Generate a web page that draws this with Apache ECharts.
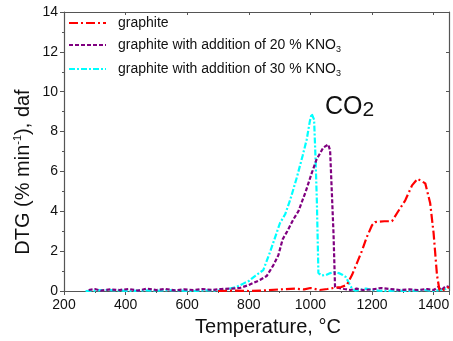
<!DOCTYPE html>
<html>
<head>
<meta charset="utf-8">
<script src="https://cdn.jsdelivr.net/npm/echarts@6/dist/echarts.min.js"></script>
<style>
  html, body { margin: 0; padding: 0; background: #fff; }
  #chart { width: 453px; height: 341px; }
</style>
</head>
<body>
<div id="chart"></div>
<script>
    // graphite
    var graphiteTemp = [700, 750, 800, 850, 900, 950, 980, 1000, 1030, 1055, 1075, 1100, 1118, 1135, 1151, 1167, 1183, 1200, 1210, 1240, 1265, 1281, 1308, 1330, 1348, 1373, 1389, 1400, 1411, 1419, 1430, 1440, 1450];
    var graphiteDtg  = [0, 0.02, 0, 0.03, 0.08, 0.12, 0.08, 0.15, 0.05, 0.1, 0.15, 0.2, 0.3, 0.8, 1.4, 2.0, 2.7, 3.3, 3.46, 3.5, 3.5, 3.9, 4.55, 5.3, 5.63, 5.4, 4.4, 2.9, 0.8, 0.05, 0.05, 0.1, 0.2];

    // graphite + 20 % KNO3
    var kno20Temp = [280, 300, 320, 350, 380, 410, 440, 470, 500, 530, 560, 590, 620, 650, 680, 710, 740, 771, 800, 836, 858, 880, 896, 910, 925, 945, 961, 985, 1004, 1020, 1042, 1058, 1064, 1070, 1075, 1080, 1092, 1110, 1130, 1150, 1170, 1200, 1230, 1260, 1290, 1320, 1350, 1380, 1400, 1415, 1425, 1440, 1450];
    var kno20Dtg  = [0.05, 0.1, 0.02, 0.08, 0.05, 0.1, 0.02, 0.12, 0.05, 0.1, 0.03, 0.08, 0.05, 0.1, 0.05, 0.1, 0.12, 0.15, 0.3, 0.55, 0.75, 1.3, 1.8, 2.6, 3.0, 3.6, 4.0, 5.0, 5.9, 6.6, 7.2, 7.35, 7.05, 4.8, 2.9, 0.2, 0.15, 0.1, 0.05, 0.12, 0.05, 0.08, 0.15, 0.1, 0.05, 0.08, 0.05, 0.1, 0.05, 0.2, 0.05, 0.25, 0.2];

    // graphite + 30 % KNO3
    var kno30Temp = [270, 300, 340, 380, 420, 460, 500, 540, 580, 620, 660, 700, 730, 760, 782, 800, 820, 847, 870, 890, 901, 918, 935, 956, 975, 988, 998, 1004, 1012, 1017, 1021, 1026, 1037, 1050, 1065, 1078, 1092, 1105, 1115, 1125, 1135, 1145, 1160, 1180, 1200, 1220, 1250, 1280, 1310, 1340, 1370, 1400, 1420, 1440, 1450];
    var kno30Dtg  = [0, 0.02, 0.05, 0.02, 0, 0.03, 0.01, 0.04, 0.02, 0, 0.03, 0.02, 0.08, 0.2, 0.37, 0.5, 0.75, 1.05, 2.0, 2.9, 3.4, 3.85, 4.6, 5.7, 6.8, 7.6, 8.5, 8.9, 8.6, 6.5, 4.5, 0.9, 0.78, 0.8, 0.9, 0.95, 0.9, 0.8, 0.7, 0.4, 0.12, 0.02, 0.05, 0.12, 0.05, 0.02, 0, 0.03, 0, 0.02, 0.05, 0, 0.05, 0.1, 0.15];

    var seriesNames = ['graphite', 'graphite with addition of 20 % KNO3', 'graphite with addition of 30 % KNO3'];

    var font = 'Liberation Sans, Arial, sans-serif';
    var axisColor = '#555';

    function pairs(xs, ys) {
        var out = [];
        for (var i = 0; i < xs.length; i++) {
            out.push([xs[i], ys[i]]);
        }
        return out;
    }

    var chart = echarts.init(document.getElementById('chart'));

    var xBase = {
        type: 'value', min: 200, max: 1450, interval: 200,
        axisLine: { onZero: false, lineStyle: { color: axisColor, width: 1.2 } },
        splitLine: { show: false }
    };
    var yBase = {
        type: 'value', min: 0, max: 14, interval: 2,
        axisLine: { show: true, lineStyle: { color: axisColor, width: 1.2 } },
        splitLine: { show: false }
    };

    var option = {
        animation: false,
        grid: { left: 64, right: 4, top: 12, bottom: 50 },
        legend: {
            orient: 'vertical',
            left: 68, top: 16,
            padding: 0,
            itemWidth: 37, itemHeight: 14, itemGap: 8,
            data: seriesNames,
            itemStyle: { opacity: 0 },
            formatter: function (name) {
                if (name.slice(-1) === '3') {
                    return '{t|' + name.slice(0, -1) + '}{s|3}';
                }
                return '{t|' + name + '}';
            },
            textStyle: {
                padding: [0, 0, 0, 7],
                rich: {
                    t: { fontFamily: font, fontSize: 14, color: '#111' },
                    s: { fontFamily: font, fontSize: 9, color: '#111', padding: [9, 0, 0, 0] }
                }
            }
        },
        xAxis: [
            Object.assign({}, xBase, {
                position: 'bottom',
                axisTick: { length: 4, lineStyle: { color: axisColor } },
                minorTick: { show: true, splitNumber: 2, length: 2, lineStyle: { color: axisColor } },
                axisLabel: {
                    fontFamily: font, fontSize: 14, color: '#111', margin: 7,
                    formatter: function (v) { return v % 200 === 0 ? String(v) : ''; }
                }
            }),
            Object.assign({}, xBase, {
                position: 'top',
                axisTick: { inside: true, length: 3, lineStyle: { color: axisColor } },
                minorTick: { show: false },
                axisLabel: { show: false }
            })
        ],
        yAxis: [
            Object.assign({}, yBase, {
                position: 'left',
                axisTick: { length: 4, lineStyle: { color: axisColor } },
                minorTick: { show: true, splitNumber: 2, length: 2, lineStyle: { color: axisColor } },
                axisLabel: { fontFamily: font, fontSize: 14, color: '#111', margin: 6 }
            }),
            Object.assign({}, yBase, {
                position: 'right',
                axisTick: { inside: true, length: 3, lineStyle: { color: axisColor } },
                axisLabel: { show: false }
            })
        ],
        series: [
            {
                name: seriesNames[2], type: 'line', showSymbol: false, symbol: 'none', z: 2,
                data: pairs(kno30Temp, kno30Dtg),
                lineStyle: { color: '#00ffff', width: 2.2, type: [6, 2, 2, 2] },
                itemStyle: { color: '#00ffff' }
            },
            {
                name: seriesNames[1], type: 'line', showSymbol: false, symbol: 'none', z: 3,
                data: pairs(kno20Temp, kno20Dtg),
                lineStyle: { color: '#800080', width: 2.2, type: [4, 2] },
                itemStyle: { color: '#800080' }
            },
            {
                name: seriesNames[0], type: 'line', showSymbol: false, symbol: 'none', z: 4,
                data: pairs(graphiteTemp, graphiteDtg),
                lineStyle: { color: '#ff0000', width: 2.2, type: [9, 3, 2, 3] },
                itemStyle: { color: '#ff0000' }
            }
        ],
        graphic: [
            {
                type: 'text', x: 23, y: 172, rotation: Math.PI / 2,
                style: {
                    text: '{a|DTG (% min}{b|-1}{a|), daf}',
                    align: 'center', verticalAlign: 'middle',
                    rich: {
                        a: { fontFamily: font, fontSize: 20, fill: '#111' },
                        b: { fontFamily: font, fontSize: 11, fill: '#111', padding: [0, 0, 10, 0] }
                    }
                }
            },
            {
                type: 'text', x: 268, y: 327,
                style: {
                    text: 'Temperature, °C',
                    align: 'center', verticalAlign: 'middle',
                    fontFamily: font, fontSize: 20, fill: '#111'
                }
            },
            {
                type: 'text', x: 325, y: 107,
                style: {
                    text: '{a|CO}{b|2}',
                    align: 'left', verticalAlign: 'middle',
                    rich: {
                        a: { fontFamily: font, fontSize: 25, fill: '#111' },
                        b: { fontFamily: font, fontSize: 21, fill: '#111', padding: [7, 0, 0, 0] }
                    }
                }
            }
        ]
    };

    chart.setOption(option);
</script>
</body>
</html>
